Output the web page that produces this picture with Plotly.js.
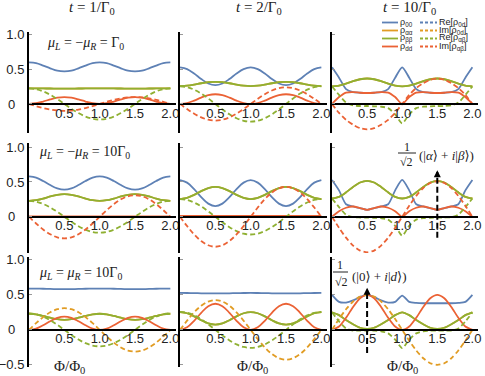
<!DOCTYPE html>
<html>
<head>
<meta charset="utf-8">
<script src="https://cdn.plot.ly/plotly-3.0.1.min.js"></script>
<style>html,body{margin:0;padding:0;background:#fff}#graph{width:485px;height:376px}</style>
</head>
<body>
<div id="graph"></div>
<script>
// flux axis, shared by all panels
const phi = [0,0.1,0.2,0.3,0.4,0.5,0.6,0.7,0.8,0.9,1.0,1.1,1.2,1.3,1.4,1.5,1.6,1.7,1.8,1.9,2.0];
const flat0 = [0,0,0,0,0,0,0,0,0,0,0,0,0,0,0,0,0,0,0,0,0];

// row 1: muL = -muR = Gamma0
const r1c1_p00 = [0.60,0.59,0.555,0.515,0.48,0.47,0.48,0.515,0.555,0.59,0.60,0.59,0.555,0.515,0.48,0.47,0.48,0.515,0.555,0.59,0.60];
const r1c1_pbb = [0.225,0.225,0.224,0.223,0.222,0.222,0.222,0.223,0.224,0.225,0.225,0.225,0.224,0.223,0.222,0.222,0.222,0.223,0.224,0.225,0.225];
const r1c1_pdd = [0,0.01,0.035,0.065,0.09,0.1,0.09,0.065,0.035,0.01,0,0.01,0.035,0.065,0.09,0.1,0.09,0.065,0.035,0.01,0];
const r1c1_reab = [0.225,0.214,0.182,0.132,0.07,0,-0.07,-0.132,-0.182,-0.214,-0.225,-0.214,-0.182,-0.132,-0.07,0,0.07,0.132,0.182,0.214,0.225];
const r1c1_imab = [0,-0.031,-0.059,-0.081,-0.095,-0.1,-0.095,-0.081,-0.059,-0.031,0,0.031,0.059,0.081,0.095,0.1,0.095,0.081,0.059,0.031,0];

const r1c2_p00 = [0.528,0.504,0.44,0.36,0.296,0.272,0.296,0.36,0.44,0.504,0.528,0.504,0.44,0.36,0.296,0.272,0.296,0.36,0.44,0.504,0.528];
const r1c2_pbb = [0.258,0.264,0.279,0.299,0.314,0.32,0.314,0.299,0.279,0.264,0.258,0.264,0.279,0.299,0.314,0.32,0.314,0.299,0.279,0.264,0.258];
const r1c2_pdd = [0,0.013,0.048,0.092,0.127,0.14,0.127,0.092,0.048,0.013,0,0.013,0.048,0.092,0.127,0.14,0.127,0.092,0.048,0.013,0];
const r1c2_reab = [0.255,0.243,0.206,0.15,0.079,0,-0.079,-0.15,-0.206,-0.243,-0.255,-0.243,-0.206,-0.15,-0.079,0,0.079,0.15,0.206,0.243,0.255];
const r1c2_imab = [0,-0.074,-0.141,-0.194,-0.228,-0.24,-0.228,-0.194,-0.141,-0.074,0,0.074,0.141,0.194,0.228,0.24,0.228,0.194,0.141,0.074,0];

const r1c3_p00 = [0.53,0.38,0.215,0.172,0.162,0.158,0.162,0.172,0.215,0.38,0.53,0.38,0.215,0.172,0.162,0.158,0.162,0.172,0.215,0.38,0.53];
const r1c3_pbb = [0.254,0.265,0.293,0.329,0.357,0.368,0.357,0.329,0.293,0.265,0.254,0.265,0.293,0.329,0.357,0.368,0.357,0.329,0.293,0.265,0.254];
const r1c3_pdd = [0,0.10,0.165,0.172,0.162,0.158,0.162,0.172,0.165,0.10,0,0.10,0.165,0.172,0.162,0.158,0.162,0.172,0.165,0.10,0];
const r1c3_reab = [0.254,0.13,0.02,-0.02,-0.03,-0.03,-0.035,-0.04,-0.06,-0.15,-0.28,-0.15,-0.06,-0.04,-0.035,-0.03,-0.03,-0.02,0.02,0.13,0.254];
const r1c3_imab = [0,-0.13,-0.23,-0.30,-0.35,-0.368,-0.35,-0.30,-0.23,-0.13,0,0.13,0.23,0.30,0.35,0.368,0.35,0.30,0.23,0.13,0];

// row 2: muL = -muR = 10 Gamma0
const r2c1_p00 = [0.58,0.562,0.514,0.456,0.408,0.39,0.408,0.456,0.514,0.562,0.58,0.562,0.514,0.456,0.408,0.39,0.408,0.456,0.514,0.562,0.58];
const r2c1_pbb = [0.229,0.238,0.262,0.292,0.316,0.325,0.316,0.292,0.262,0.238,0.229,0.238,0.262,0.292,0.316,0.325,0.316,0.292,0.262,0.238,0.229];
const r2c1_pdd = [0.006,0.006,0.006,0.006,0.006,0.006,0.006,0.006,0.006,0.006,0.006,0.006,0.006,0.006,0.006,0.006,0.006,0.006,0.006,0.006,0.006];
const r2c1_reab = [0.229,0.218,0.185,0.135,0.071,0,-0.071,-0.135,-0.185,-0.218,-0.229,-0.218,-0.185,-0.135,-0.071,0,0.071,0.135,0.185,0.218,0.229];
const r2c1_imab = [0,-0.096,-0.182,-0.251,-0.295,-0.31,-0.295,-0.251,-0.182,-0.096,0,0.096,0.182,0.251,0.295,0.31,0.295,0.251,0.182,0.096,0];

const r2c2_p00 = [0.527,0.491,0.398,0.282,0.189,0.153,0.189,0.282,0.398,0.491,0.527,0.491,0.398,0.282,0.189,0.153,0.189,0.282,0.398,0.491,0.527];
const r2c2_pbb = [0.254,0.271,0.315,0.369,0.413,0.43,0.413,0.369,0.315,0.271,0.254,0.271,0.315,0.369,0.413,0.43,0.413,0.369,0.315,0.271,0.254];
const r2c2_pdd = [0.012,0.012,0.012,0.012,0.012,0.012,0.012,0.012,0.012,0.012,0.012,0.012,0.012,0.012,0.012,0.012,0.012,0.012,0.012,0.012,0.012];
const r2c2_reab = [0.254,0.242,0.205,0.149,0.078,0,-0.078,-0.149,-0.205,-0.242,-0.254,-0.242,-0.205,-0.149,-0.078,0,0.078,0.149,0.205,0.242,0.254];
const r2c2_imab = [0,-0.133,-0.253,-0.348,-0.409,-0.43,-0.409,-0.348,-0.253,-0.133,0,0.133,0.253,0.348,0.409,0.43,0.409,0.348,0.253,0.133,0];

const r2c3_p00 = [0.53,0.38,0.18,0.148,0.125,0.1,0.125,0.148,0.18,0.38,0.53,0.38,0.18,0.148,0.125,0.1,0.125,0.148,0.18,0.38,0.53];
const r2c3_pbb = [0.263,0.287,0.351,0.429,0.493,0.517,0.493,0.429,0.351,0.287,0.263,0.287,0.351,0.429,0.493,0.517,0.493,0.429,0.351,0.287,0.263];
const r2c3_pdd = [0,0.08,0.13,0.148,0.125,0.1,0.125,0.148,0.13,0.08,0,0.08,0.13,0.148,0.125,0.1,0.125,0.148,0.13,0.08,0];
const r2c3_reab = [0.263,0.14,0.03,-0.005,-0.01,-0.01,-0.015,-0.02,-0.04,-0.13,-0.27,-0.13,-0.04,-0.02,-0.015,-0.01,-0.01,-0.005,0.03,0.14,0.263];
const r2c3_imab = [0,-0.158,-0.30,-0.413,-0.485,-0.51,-0.485,-0.413,-0.30,-0.158,0,0.158,0.30,0.413,0.485,0.51,0.485,0.413,0.30,0.158,0];

// row 3: muL = muR = 10 Gamma0
const r3c1_p00 = [0.59,0.589,0.587,0.584,0.582,0.581,0.582,0.584,0.587,0.589,0.59,0.589,0.587,0.584,0.582,0.581,0.582,0.584,0.587,0.589,0.59];
const r3c1_pbb = [0.23,0.222,0.2,0.174,0.152,0.144,0.152,0.174,0.2,0.222,0.23,0.222,0.2,0.174,0.152,0.144,0.152,0.174,0.2,0.222,0.23];
const r3c1_pdd = [0,0.018,0.066,0.124,0.172,0.19,0.172,0.124,0.066,0.018,0,0.018,0.066,0.124,0.172,0.19,0.172,0.124,0.066,0.018,0];
const r3c1_reab = [0.235,0.224,0.19,0.138,0.073,0,-0.073,-0.138,-0.19,-0.224,-0.235,-0.224,-0.19,-0.138,-0.073,0,0.073,0.138,0.19,0.224,0.235];
const r3c1_im0d = [0,0.096,0.182,0.251,0.295,0.31,0.295,0.251,0.182,0.096,0,-0.096,-0.182,-0.251,-0.295,-0.31,-0.295,-0.251,-0.182,-0.096,0];

const r3c2_p00 = [0.527,0.526,0.524,0.522,0.521,0.52,0.521,0.522,0.524,0.526,0.527,0.526,0.524,0.522,0.521,0.52,0.521,0.522,0.524,0.526,0.527];
const r3c2_pbb = [0.254,0.237,0.193,0.138,0.093,0.076,0.093,0.138,0.193,0.237,0.254,0.237,0.193,0.138,0.093,0.076,0.093,0.138,0.193,0.237,0.254];
const r3c2_pdd = [0,0.036,0.129,0.244,0.338,0.373,0.338,0.244,0.129,0.036,0,0.036,0.129,0.244,0.338,0.373,0.338,0.244,0.129,0.036,0];
const r3c2_reab = [0.257,0.244,0.208,0.151,0.079,0,-0.079,-0.151,-0.208,-0.244,-0.257,-0.244,-0.208,-0.151,-0.079,0,0.079,0.151,0.208,0.244,0.257];
const r3c2_im0d = [0,0.131,0.25,0.344,0.404,0.425,0.404,0.344,0.25,0.131,0,-0.131,-0.25,-0.344,-0.404,-0.425,-0.404,-0.344,-0.25,-0.131,0];

const r3c3_p00 = [0.5,0.40,0.39,0.42,0.47,0.5,0.47,0.42,0.39,0.40,0.49,0.40,0.385,0.38,0.38,0.38,0.38,0.38,0.385,0.40,0.5];
const r3c3_pbb = [0.25,0.21,0.14,0.08,0.03,0.015,0.03,0.08,0.14,0.21,0.25,0.21,0.14,0.08,0.03,0.015,0.03,0.08,0.14,0.21,0.25];
const r3c3_pdd = [0,0.048,0.173,0.327,0.452,0.5,0.452,0.327,0.173,0.048,0,0.048,0.173,0.327,0.452,0.5,0.452,0.327,0.173,0.048,0];
const r3c3_reab = [0.25,0.12,0.02,-0.01,-0.01,-0.01,-0.01,-0.02,-0.05,-0.14,-0.26,-0.14,-0.05,-0.02,-0.01,-0.01,-0.01,-0.01,0.02,0.12,0.25];
const r3c3_im0d = [0,0.155,0.294,0.405,0.476,0.5,0.476,0.405,0.294,0.155,0,-0.155,-0.294,-0.405,-0.476,-0.5,-0.476,-0.405,-0.294,-0.155,0];

const colTitles = ["<i>t</i> = 1/Γ<sub>0</sub>", "<i>t</i> = 2/Γ<sub>0</sub>", "<i>t</i> = 10/Γ<sub>0</sub>"];
const rowLabels = [
  "<i>μ</i><sub><i>L</i></sub> = −<i>μ</i><sub><i>R</i></sub> = Γ<sub>0</sub>",
  "<i>μ</i><sub><i>L</i></sub> = −<i>μ</i><sub><i>R</i></sub> = 10Γ<sub>0</sub>",
  "<i>μ</i><sub><i>L</i></sub> = <i>μ</i><sub><i>R</i></sub> = 10Γ<sub>0</sub>"
];
const xTickVals = [0.5, 1, 1.5, 2];
const xTickText = ["0.5", "1.0", "1.5", "2.0"];

// panels in reading order; ραα lies under ρββ everywhere
const panels = [
  {p00: r1c1_p00, paa: r1c1_pbb, pbb: r1c1_pbb, pdd: r1c1_pdd, re0d: flat0, im0d: flat0, reab: r1c1_reab, imab: r1c1_imab},
  {p00: r1c2_p00, paa: r1c2_pbb, pbb: r1c2_pbb, pdd: r1c2_pdd, re0d: flat0, im0d: flat0, reab: r1c2_reab, imab: r1c2_imab},
  {p00: r1c3_p00, paa: r1c3_pbb, pbb: r1c3_pbb, pdd: r1c3_pdd, re0d: flat0, im0d: flat0, reab: r1c3_reab, imab: r1c3_imab},
  {p00: r2c1_p00, paa: r2c1_pbb, pbb: r2c1_pbb, pdd: r2c1_pdd, re0d: flat0, im0d: flat0, reab: r2c1_reab, imab: r2c1_imab},
  {p00: r2c2_p00, paa: r2c2_pbb, pbb: r2c2_pbb, pdd: r2c2_pdd, re0d: flat0, im0d: flat0, reab: r2c2_reab, imab: r2c2_imab},
  {p00: r2c3_p00, paa: r2c3_pbb, pbb: r2c3_pbb, pdd: r2c3_pdd, re0d: flat0, im0d: flat0, reab: r2c3_reab, imab: r2c3_imab},
  {p00: r3c1_p00, paa: r3c1_pbb, pbb: r3c1_pbb, pdd: r3c1_pdd, re0d: flat0, im0d: r3c1_im0d, reab: r3c1_reab, imab: flat0},
  {p00: r3c2_p00, paa: r3c2_pbb, pbb: r3c2_pbb, pdd: r3c2_pdd, re0d: flat0, im0d: r3c2_im0d, reab: r3c2_reab, imab: flat0},
  {p00: r3c3_p00, paa: r3c3_pbb, pbb: r3c3_pbb, pdd: r3c3_pdd, re0d: flat0, im0d: r3c3_im0d, reab: r3c3_reab, imab: flat0},
];

const blue = "#5e81b5", orange = "#e19c24", green = "#8fb032", red = "#eb6235";
const series = [
  {key: "p00", color: blue, dash: "solid", name: "ρ<sub>00</sub>"},
  {key: "paa", color: orange, dash: "solid", name: "ρ<sub>αα</sub>"},
  {key: "pbb", color: green, dash: "solid", name: "ρ<sub>ββ</sub>"},
  {key: "pdd", color: red, dash: "solid", name: "ρ<sub>dd</sub>"},
  {key: "re0d", color: blue, dash: "5px,3px", name: "Re[ρ<sub>0d</sub>]"},
  {key: "im0d", color: orange, dash: "5px,3px", name: "Im[ρ<sub>0d</sub>]"},
  {key: "reab", color: green, dash: "5px,3px", name: "Re[ρ<sub>αβ</sub>]"},
  {key: "imab", color: red, dash: "5px,3px", name: "Im[ρ<sub>αβ</sub>]"},
];

const W = 485, H = 376;
const px = (x) => x / W;
const py = (y) => 1 - y / H;

// pixel boxes of the panels
const rows = [
  {top: 32, bottom: 133, range: [-0.42, 1.04], ticks: [0, 0.5, 1], text: ["0\u2002\u2009", "0.5", "1.0"]},
  {top: 143, bottom: 253, range: [-0.52, 1.06], ticks: [0, 0.5, 1], text: ["0\u2002\u2009", "0.5", "1.0"]},
  {top: 257, bottom: 367, range: [-0.53, 1.04], ticks: [-0.5, 0, 0.5, 1], text: ["−0.5", "0\u2002\u2009", "0.5", "1.0"]},
];
const cols = [[29, 176], [180, 327], [332, 478]];

const data = [];
const layout = {
  width: W,
  height: H,
  margin: {l: 0, r: 0, t: 0, b: 0},
  paper_bgcolor: "#fff",
  plot_bgcolor: "rgba(0,0,0,0)",
  showlegend: false,
  font: {family: "Liberation Sans, Arial, sans-serif", size: 13, color: "#222"},
  annotations: [],
  shapes: [],
};

panels.forEach((p, i) => {
  const r = Math.floor(i / 3), c = i % 3;
  const k = i === 0 ? "" : String(i + 1);
  const row = rows[r];
  series.forEach((s) => {
    data.push({
      x: phi,
      y: p[s.key],
      xaxis: "x" + k,
      yaxis: "y" + k,
      type: "scatter",
      mode: "lines",
      line: {color: s.color, width: 1.8, dash: s.dash, shape: "spline", smoothing: c === 2 ? 0.7 : 1},
      hoverinfo: "skip",
    });
  });
  const yb = py(row.bottom), yt = py(row.top);
  const zero = yb + (0 - row.range[0]) / (row.range[1] - row.range[0]) * (yt - yb);
  layout["xaxis" + k] = {
    domain: [px(cols[c][0]), px(cols[c][1])],
    range: [0, 2.08],
    anchor: "free",
    position: zero,
    showline: true,
    linecolor: "#000",
    linewidth: 2,
    showgrid: false,
    zeroline: false,
    ticks: "",
    tickvals: xTickVals,
    ticktext: xTickText,
    ticklabelstandoff: -3,
    tickfont: {size: 13, color: "#222"},
    fixedrange: true,
  };
  layout["yaxis" + k] = {
    domain: [yb, yt],
    range: row.range,
    anchor: "x" + k,
    showline: true,
    linecolor: "#000",
    linewidth: 2,
    showgrid: false,
    zeroline: false,
    ticks: "inside",
    ticklen: 3,
    tickcolor: "#999",
    tickvals: row.ticks,
    ticktext: row.text,
    showticklabels: c === 0,
    tickfont: {size: 13, color: "#222"},
    fixedrange: true,
  };
});

const serif = "Liberation Serif, DejaVu Serif, serif";

// column titles
[92, 259, 409].forEach((x, c) => {
  layout.annotations.push({xref: "paper", yref: "paper", x: px(x), y: py(8), text: colTitles[c],
    showarrow: false, font: {family: serif, size: 15, color: "#222"}, xanchor: "center", yanchor: "middle"});
});
// row labels
[[45, 43], [37, 152], [37, 273]].forEach((pos, r) => {
  layout.annotations.push({xref: "paper", yref: "paper", x: px(pos[0]), y: py(pos[1]), text: rowLabels[r],
    showarrow: false, font: {family: serif, size: 14, color: "#222"}, xanchor: "left", yanchor: "middle"});
});
// x axis titles
[69, 252, 402].forEach((x) => {
  layout.annotations.push({xref: "paper", yref: "paper", x: px(x), y: py(367), text: "Φ/Φ<sub>0</sub>",
    showarrow: false, font: {family: serif, size: 15, color: "#222"}, xanchor: "center", yanchor: "middle"});
});

// legend, two columns of four
const legRows = [22.5, 30.5, 38.5, 46.5];
series.forEach((s, j) => {
  const col = j < 4 ? 0 : 1;
  const y = legRows[j % 4];
  const x0 = col === 0 ? 382 : 420, x1 = col === 0 ? 398 : 437;
  layout.shapes.push({type: "line", xref: "paper", yref: "paper", x0: px(x0), x1: px(x1), y0: py(y), y1: py(y),
    line: {color: s.color, width: 1.8, dash: s.dash === "solid" ? "solid" : "3px,2px"}});
  layout.annotations.push({xref: "paper", yref: "paper", x: px(x1 + 1), y: py(y), text: s.name,
    showarrow: false, font: {size: 9, color: "#222"}, xanchor: "left", yanchor: "middle", borderpad: 0});
});

// state markers: dashed arrow plus 1/sqrt(2)(...) label
const marks = [
  {ax: "6", x: 1.5, y0: -0.3, y1: 0.67, one: [407, 147], bar: [398, 416, 153], root: [406, 162], label: "(|<i>α</i>⟩ + <i>i</i>|<i>β</i>⟩)", lx: 417, ly: 155},
  {ax: "9", x: 0.5, y0: -0.33, y1: 0.6, one: [340, 265], bar: [333, 348, 272], root: [341, 282], label: "(|0⟩ + <i>i</i>|<i>d</i>⟩)", lx: 350, ly: 276},
];
marks.forEach((m) => {
  layout.shapes.push({type: "line", xref: "x" + m.ax, yref: "y" + m.ax, x0: m.x, x1: m.x, y0: m.y0, y1: m.y1 - 0.05,
    line: {color: "#000", width: 2, dash: "6px,3px"}});
  layout.annotations.push({xref: "x" + m.ax, yref: "y" + m.ax, axref: "x" + m.ax, ayref: "y" + m.ax,
    x: m.x, y: m.y1, ax: m.x, ay: m.y1 - 0.08, text: "", showarrow: true, arrowhead: 2, arrowsize: 0.7, arrowwidth: 2, arrowcolor: "#000"});
  layout.shapes.push({type: "line", xref: "paper", yref: "paper", x0: px(m.bar[0]), x1: px(m.bar[1]), y0: py(m.bar[2]), y1: py(m.bar[2]),
    line: {color: "#222", width: 1}});
  layout.annotations.push({xref: "paper", yref: "paper", x: px(m.one[0]), y: py(m.one[1]), text: "1",
    showarrow: false, font: {family: serif, size: 12, color: "#222"}, xanchor: "center", yanchor: "middle"});
  layout.annotations.push({xref: "paper", yref: "paper", x: px(m.root[0]), y: py(m.root[1]), text: "√2",
    showarrow: false, font: {family: serif, size: 12, color: "#222"}, xanchor: "center", yanchor: "middle"});
  layout.annotations.push({xref: "paper", yref: "paper", x: px(m.lx), y: py(m.ly), text: m.label,
    showarrow: false, font: {family: serif, size: 13, color: "#222"}, xanchor: "left", yanchor: "middle"});
});

Plotly.newPlot("graph", data, layout, {staticPlot: true});
</script>
</body>
</html>
